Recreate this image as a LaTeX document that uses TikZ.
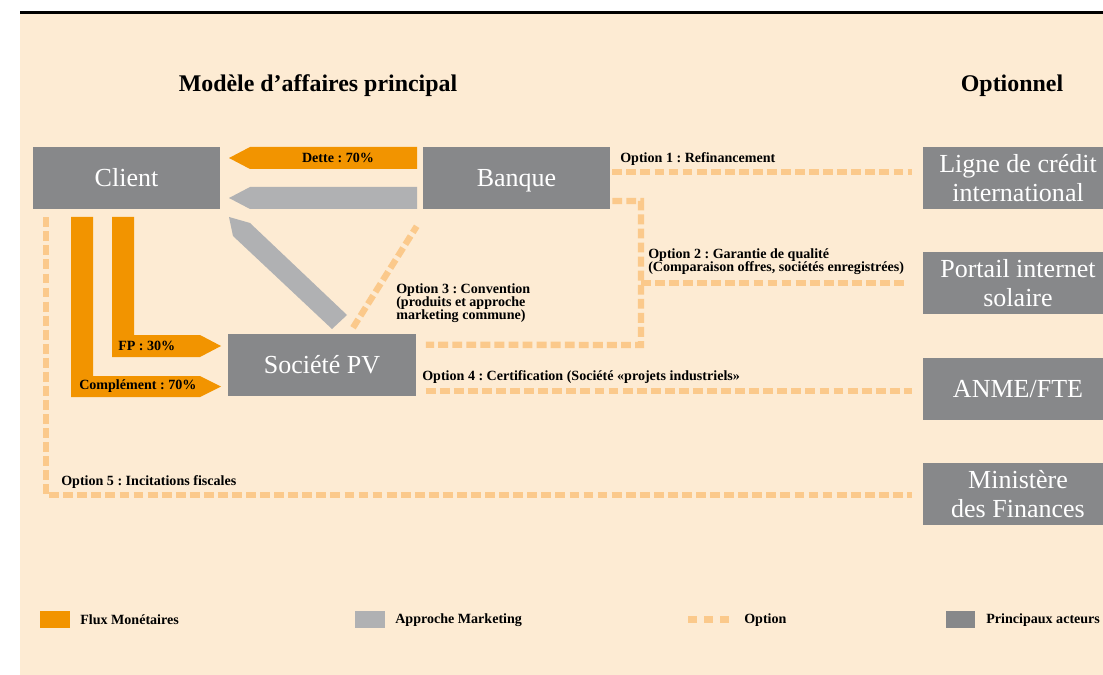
\documentclass[tikz,border=0pt]{standalone}
\usepackage{fontspec}
\setmainfont{Liberation Serif}
\frenchspacing
\definecolor{fondcol}{RGB}{253,235,211}
\definecolor{actcol}{RGB}{135,136,138}
\definecolor{mktcol}{RGB}{176,177,179}
\definecolor{fluxcol}{RGB}{242,148,0}
\definecolor{optcol}{RGB}{251,201,139}

\begin{document}
\begin{tikzpicture}[x=0.025cm,y=-0.025cm,
  acteur/.style={fill=actcol,text=white,minimum width=4.675cm,minimum height=1.55cm,inner sep=0pt,align=center,font=\fontsize{18.5}{21}\selectfont},
  seul/.style={text height=12.5pt,text depth=0pt},
  flux/.style={fill=fluxcol},
  mkt/.style={fill=mktcol},
  opt/.style={draw=optcol,line width=4.5pt,dash pattern=on 7pt off 3pt},
  lbl/.style={font=\bfseries\fontsize{10}{9.2}\selectfont,inner sep=0pt,align=left,anchor=west},
  titre/.style={font=\bfseries\fontsize{17}{20}\selectfont}]
	\useasboundingbox (0,0) rectangle (1103,675);
	\fill[fondcol] (20,14) rectangle (1103,675);
	\fill (20,11.5) rectangle (1103,14.5);

	\node[titre] (titre1) at (318,86) {Modèle d’affaires principal};
	\node[titre] (titre2) at (1012,86) {Optionnel};

	\node[acteur,seul] (client) at (126.5,178) {Client};
	\node[acteur,seul] (banque) at (516.5,178) {Banque};
	\node[acteur,seul] (societe) at (322,365) {Société PV};
	\node[acteur,minimum width=4.75cm] (ligne) at (1018,178) {Ligne de crédit\\international};
	\node[acteur,minimum width=4.75cm] (portail) at (1018,283) {Portail internet\\solaire};
	\node[acteur,seul,minimum width=4.75cm] (anme) at (1018,389) {ANME/FTE};
	\node[acteur,minimum width=4.75cm] (ministere) at (1018,494) {Ministère\\des Finances};

	\fill[flux] (417,147) -- (250,147) -- (229,158) -- (250,169) -- (417,169) -- cycle;
	\fill[mkt] (417,187) -- (250,187) -- (229,198) -- (250,209) -- (417,209) -- cycle;
	\fill[mkt] (229,217) -- (250,223) -- (347,315) -- (332,329) -- (233,236) -- cycle;
	\fill[flux] (71,217) -- (93,217) -- (93,376) -- (200,376) -- (221,386.5) -- (200,397) -- (71,397) -- cycle;
	\fill[flux] (112,217) -- (134,217) -- (134,335) -- (200,335) -- (221,346) -- (200,357) -- (112,357) -- cycle;
	\node[lbl,anchor=center] (dette) at (338,158) {Dette : 70\%};
	\node[lbl] (fp) at (118,346) {FP : 30\%};
	\node[lbl] (complement) at (79,386.5) {Complément : 70\%};

	\draw[opt] ([shift={(2,-6)}]banque.east) -- ([shift={(-11,-6)}]ligne.west);
	\draw[opt] ([shift={(2,23)}]banque.east) -| (641,345) -- ([shift={(10,11)}]societe.north east);
	\draw[opt] (641,283) -- ([xshift=-11]portail.west);
	\draw[opt] ([shift={(31,-6)}]societe.north) -- ([shift={(-6,17)}]banque.south west);
	\draw[opt] ([shift={(10,26)}]societe.east) -- ([shift={(-11,2)}]anme.west);
	\draw[opt] ([shift={(13,8)}]client.south west) |- ([shift={(-11,1)}]ministere.west);

	\node[lbl] (o1) at (620,159) {Option 1 : Refinancement};
	\node[lbl] (o2) at (648,261.5) {Option 2 : Garantie de qualité\\(Comparaison offres, sociétés enregistrées)};
	\node[lbl] (o3) at (396,303) {Option 3 : Convention\\(produits et approche\\marketing commune)};
	\node[lbl] (o4) at (422,377) {Option 4 : Certification (Société «projets industriels»};
	\node[lbl] (o5) at (61,482) {Option 5 : Incitations fiscales};

	\fill[flux] (40,611) rectangle (70,628);
	\node[lbl] (leg1) at (80,620) {Flux Monétaires};
	\fill[mkt] (355,611) rectangle (385,628);
	\node[lbl] (leg2) at (395,620) {Approche Marketing};
	\foreach \i in {0,1,2}
		\fill[optcol] (688+16*\i,616) rectangle ++(9,7);
	\node[lbl] (leg3) at (744,620) {Option};
	\fill[actcol] (946,611) rectangle (975,628);
	\node[lbl] (leg4) at (986,620) {Principaux acteurs};
\end{tikzpicture}
\end{document}
